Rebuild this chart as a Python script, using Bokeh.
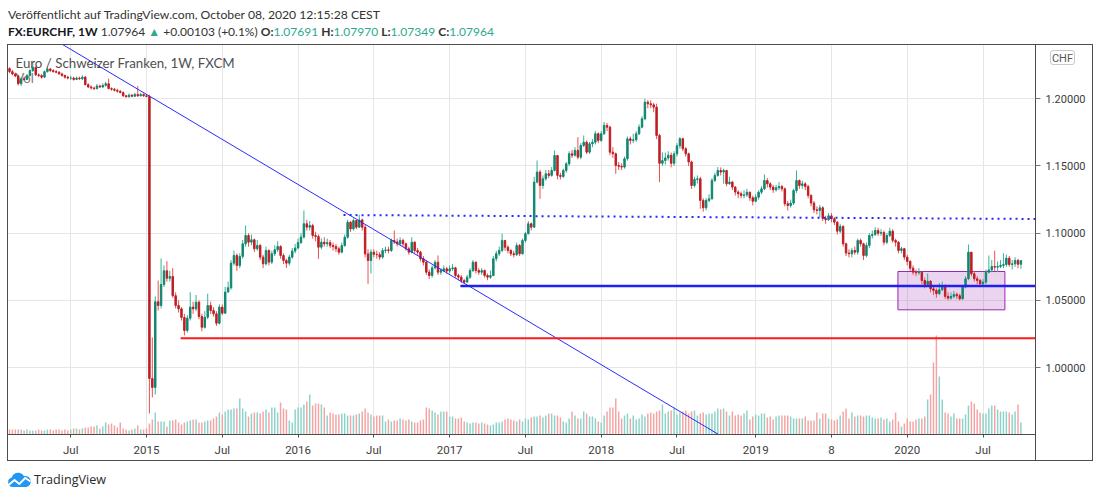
import numpy as np
from bokeh.plotting import figure
from bokeh.models import (ColumnDataSource, Range1d, FixedTicker, NumeralTickFormatter,
                          Label, Div)
from bokeh.layouts import column
from bokeh.embed import file_html
from bokeh.resources import INLINE

# ---------------- data (weekly EUR/CHF, FXCM) ----------------
# bar index 0 = week of 2015-01-05; first bar is index -47 (Feb 2014)
FIRST_WEEK = -47
first_open_x1e4 = 12225

close_x1e4 = [
 12202,12185,12170,12112,12149,12144,12173,12210,12234,12178,
 12173,12161,12202,12222,12210,12202,12198,12185,12173,12161,
 12154,12154,12144,12154,12149,12161,12105,12088,12080,12076,
 12095,12088,12100,12112,12076,12071,12063,12056,12046,12022,
 12015,12027,12019,12032,12022,12032,12022,12017,
 9919,9852,10490,10462,10618,10720,10665,10678,10535,10462,
 10437,10373,10276,10368,10450,10437,10487,10380,10300,10375,
 10462,10425,10400,10330,10450,10405,10562,10594,10777,10834,
 10760,10827,10921,10983,10933,10951,10884,10909,10822,10772,
 10871,10785,10847,10877,10901,10834,10797,10777,10822,10867,
 10890,10930,10971,11070,11045,
 11057,10983,10975,10896,10933,10921,10930,10908,10900,10884,
 10859,10908,10970,11082,11032,11094,11045,11099,11045,10846,
 10797,10859,10842,10840,10822,10871,10876,10871,10946,10935,
 10921,10946,10921,10884,10859,10933,10871,10859,10809,10784,
 10710,10685,10742,10784,10710,10722,10735,10718,10735,10742,
 10685,10673,10648,10636,10673,10722,10784,10722,10710,10722,
 10685,10673,10685,
 10810,10847,10872,10946,10896,10872,10847,10840,10909,10847,
 10946,10996,11070,11045,11380,11455,11355,11405,11442,11430,
 11467,11578,11430,11422,11467,11516,11591,11580,11616,11566,
 11653,11677,11603,11665,11677,11740,11690,11740,11802,11789,
 11603,11591,11504,11497,11492,11554,11702,11690,11695,11740,
 11789,11851,11975,11963,11955,11938,11727,11520,
 11540,11560,11580,11520,11590,11650,11703,11628,11591,11530,
 11355,11400,11405,11244,11189,11244,11256,11393,11430,11467,
 11455,11467,11368,11380,11343,11306,11293,
 11281,11285,11305,11263,11238,11268,11305,11330,11392,11367,
 11343,11323,11338,11347,11330,11219,11206,11224,11318,11392,
 11355,11367,11347,11281,11224,11174,11169,11189,11110,11100,
 11129,11107,11082,11015,11050,10921,10852,10847,10871,10859,
 10946,10921,10834,10909,10983,10990,11020,11000,11005,10933,
 10983,11015,10946,10933,10871,10885,10822,10790,10740,10710,
 10705,10710,10648,10618,10643,10586,10574,10550,10580,10604,
 10530,10517,10530,10544,10534,10512,10599,10661,10859,10698,
 10661,10648,10623,10636,10710,10727,10752,10747,10752,10760,
 10767,10814,10767,10772,10797,10769,10796]

high_x1e4 = [
 12234,12215,12195,12180,12160,12165,12185,12220,12265,12240,
 12190,12185,12210,12235,12230,12220,12215,12205,12195,12180,
 12170,12170,12165,12165,12165,12175,12170,12115,12100,12090,
 12110,12105,12115,12125,12150,12085,12080,12075,12065,12055,
 12030,12040,12035,12045,12095,12045,12040,12035,
 12030,10224,10530,10648,10812,10760,10792,10720,10740,10560,
 10500,10450,10400,10390,10560,10490,10540,10500,10400,10420,
 10550,10490,10450,10420,10470,10470,10600,10640,10800,10870,
 10850,10850,10950,11057,11000,10990,10960,10950,10920,10840,
 10900,10880,10870,10910,10940,10910,10850,10810,10840,10890,
 10920,10960,11000,11169,11100,
 11090,11070,11010,10990,10960,10970,10960,10950,10930,10920,
 10900,10930,10990,11100,11090,11110,11100,11137,11110,11060,
 10880,10880,10880,10870,10860,10890,10900,10900,10960,11020,
 10960,10970,10960,10930,10900,10970,10940,10890,10870,10830,
 10800,10730,10760,10800,10834,10740,10760,10750,10760,10770,
 10750,10700,10690,10660,10690,10740,10800,10790,10740,10740,
 10730,10700,10722,
 10830,10870,10900,10996,10950,10910,10880,10870,10930,10920,
 10960,11010,11090,11080,11420,11541,11470,11430,11470,11470,
 11492,11616,11580,11450,11480,11530,11610,11620,11640,11715,
 11670,11727,11690,11680,11700,11760,11750,11760,11827,11820,
 11800,11640,11600,11530,11520,11570,11720,11720,11740,11760,
 11810,11870,12000,11990,11988,11970,11963,11740,
 11600,11600,11610,11600,11610,11670,11715,11710,11640,11600,
 11540,11420,11430,11420,11260,11260,11290,11410,11450,11492,
 11490,11480,11470,11420,11390,11350,11320,
 11310,11320,11330,11310,11280,11290,11320,11350,11437,11410,
 11380,11360,11360,11380,11360,11340,11240,11250,11330,11467,
 11400,11390,11380,11360,11290,11240,11200,11210,11200,11130,
 11150,11150,11120,11090,11070,11060,10930,10880,10890,10900,
 10960,10960,10930,10930,11000,11020,11045,11040,11030,11020,
 11000,11040,11030,10960,10940,10900,10890,10840,10800,10760,
 10730,10740,10720,10670,10700,10650,10600,10590,10630,10640,
 10620,10560,10560,10570,10560,10550,10610,10680,10916,10860,
 10720,10680,10660,10660,10730,10834,10800,10870,10790,10800,
 10850,10840,10830,10800,10820,10810,10797]

low_x1e4 = [
 12190,12175,12160,12100,12095,12130,12140,12165,12200,12170,
 12160,12150,12155,12195,12200,12195,12190,12180,12165,12150,
 12145,12140,12135,12140,12140,12140,12100,12080,12070,12065,
 12070,12080,12080,12090,12070,12060,12055,12045,12040,12015,
 12010,12010,12012,12015,12015,12018,12015,12010,
 9659,9778,9800,10425,10440,10600,10640,10640,10520,10440,
 10410,10350,10239,10260,10350,10400,10420,10360,10270,10290,
 10360,10400,10380,10310,10320,10390,10400,10560,10580,10760,
 10720,10740,10810,10900,10900,10910,10860,10870,10800,10740,
 10760,10760,10770,10830,10860,10810,10770,10740,10760,10810,
 10850,10880,10920,10960,11020,
 11020,10960,10940,10809,10880,10900,10900,10890,10870,10860,
 10840,10850,10900,10960,11010,11020,11030,11040,11020,10820,
 10623,10700,10820,10810,10800,10810,10850,10850,10860,10920,
 10900,10910,10900,10870,10840,10850,10850,10840,10790,10760,
 10690,10660,10670,10730,10690,10690,10710,10700,10700,10720,
 10670,10650,10630,10623,10630,10660,10710,10700,10690,10690,
 10670,10650,10660,
 10680,10790,10830,10860,10870,10850,10830,10820,10830,10830,
 10840,10930,10990,11020,11040,11370,11256,11330,11390,11410,
 11420,11460,11400,11400,11410,11450,11500,11560,11570,11550,
 11550,11640,11590,11590,11640,11660,11670,11680,11730,11760,
 11580,11560,11442,11470,11470,11480,11540,11660,11670,11680,
 11730,11780,11840,11930,11930,11900,11700,11380,
 11500,11510,11540,11490,11500,11570,11630,11610,11570,11500,
 11330,11340,11370,11182,11160,11170,11230,11250,11380,11420,
 11430,11368,11350,11360,11320,11280,11260,
 11260,11260,11270,11240,11206,11230,11250,11290,11320,11340,
 11320,11300,11310,11320,11310,11200,11169,11190,11210,11300,
 11330,11330,11320,11260,11200,11150,11140,11119,11090,11070,
 11090,11080,11060,10990,11000,10900,10830,10820,10820,10840,
 10840,10900,10800,10820,10890,10960,10980,10980,10980,10910,
 10920,10970,10930,10900,10850,10850,10800,10760,10720,10690,
 10680,10690,10620,10590,10610,10560,10540,10520,10540,10570,
 10510,10500,10505,10515,10510,10500,10505,10590,10650,10680,
 10640,10620,10600,10610,10620,10700,10710,10720,10710,10740,
 10740,10750,10750,10730,10750,10740,10735]

volume = [
 5,5,5,5,5,4,5,4,4,4, 5,4,4,5,5,4,5,5,4,5, 4,5,6,6,5,6,7,7,8,8,
 9,6,8,12,10,11,9,7,12,6, 5,4,5,6,9,5,5,6,
 11,15,22,13,13,13,8,14,14,15, 12,10,12,13,14,15,15,12,12,13,
 14,14,16,18,22,20,23,25,25,26, 26,36,26,23,18,21,22,22,21,23,
 25,22,27,27,22,32,26,25,14,12, 25,27,27,30,33,40,29,31,31,30,
 27,19,22,21,20,20,21,21,19,19, 19,20,21,23,26,22,20,18,19,19,
 19,13,15,13,14,14,16,15,14,15, 13,12,12,14,15,27,26,24,22,20,
 23,23,23,18,18,16,16,17,13,12, 11,12,12,11,12,11,10,9,10,12,
 12,13,15,16,15,14,13,15,13,16, 15,17,18,18,19,17,19,21,
 21,19,19,17,13,12,16,23,19,16, 16,23,21,18,18,16,13,12,19,23,
 27,27,36,23,16,19,21,16,19,15, 16,20,18,21,22,21,23,24,30,21,
 23,24,27,20,22,23,24,21,23,24, 19,21,22,20,21,21,23,26,25,26,
 23,19,23,19,20,19,21,24,15,18, 20,19,21,21,17,18,15,18,19,19,
 19,19,18,16,16,16,16,18,14,14, 14,22,16,21,21,16,15,14,15,19,
 23,26,16,22,18,19,19,18,19,19, 17,16,16,17,15,16,13,15,22,13,
 8,11,16,13,13,15,16,16,18,35, 40,72,99,58,35,22,21,18,21,16,
 16,16,20,29,33,31,25,22,21,21, 26,29,29,25,23,23,23,22,20,23,
 30,12]

tick_weeks = [-26, 0, 26, 52, 78, 104, 130, 156, 182, 209, 235, 261, 287]
tick_labels = ["Jul", "2015", "Jul", "2016", "Jul", "2017", "Jul", "2018",
               "Jul", "2019", "8", "2020", "Jul"]
price_ticks = [1.00, 1.05, 1.10, 1.15, 1.20]

# chart drawings (week index, price)
trend_k, trend_p = [-35, 205], [1.2484, 0.9390]
dotted_k, dotted_p = [67.6, 320], [1.1135, 1.1104]
support_k, support_p = [107.7, 320], [1.0608, 1.0608]
red_k, red_p = [11.7, 320], [1.0219, 1.0219]
box_k, box_p = [257.8, 294.5], [1.0430, 1.0715]

last_o, last_h, last_l, last_c, last_chg = "1.07691", "1.07970", "1.07349", "1.07964", "+0.00103 (+0.1%)"

# ---------------- build ----------------
n = len(close_x1e4)
k = np.arange(FIRST_WEEK, FIRST_WEEK + n)
c = np.array(close_x1e4) / 1e4
o = np.concatenate([[first_open_x1e4 / 1e4], c[:-1]])
h = np.maximum(np.array(high_x1e4) / 1e4, np.maximum(o, c))
l = np.minimum(np.array(low_x1e4) / 1e4, np.minimum(o, c))
up = c >= o

UP_BODY, DN_BODY = "#138670", "#bd1f24"
UP_WICK, DN_WICK = "#30b39a", "#ef4f50"
UP_VOL, DN_VOL = "#8ad3c9", "#f5a3a2"

src = ColumnDataSource(dict(
    k=k, h=h, l=l, top=np.maximum(o, c), bot=np.minimum(o, c),
    body=np.where(up, UP_BODY, DN_BODY).tolist(),
    wick=np.where(up, UP_WICK, DN_WICK).tolist(),
    vol=np.array(volume, dtype=float),
    vcol=np.where(up, UP_VOL, DN_VOL).tolist()))

W, H = 1086, 417
FW, FH = 1028, 390
p = figure(width=W, height=H, x_range=Range1d(-47.69, 305.0),
           y_range=Range1d(0.95022, 1.24040), output_backend="svg",
           toolbar_location=None, y_axis_location="right", title=None,
           min_border_left=0, min_border_right=W - FW, min_border_top=0,
           min_border_bottom=H - FH)
p.extra_y_ranges = {"vol": Range1d(0, FH)}
p.background_fill_color = "white"
p.border_fill_color = "white"
p.outline_line_color = "#4d4d4d"

p.xgrid.ticker = FixedTicker(ticks=tick_weeks)
p.ygrid.ticker = FixedTicker(ticks=price_ticks)
for g in (p.xgrid, p.ygrid):
    g.grid_line_color = "#e6e6e6"
    g.grid_line_width = 1

xa = p.xaxis[0]
xa.ticker = FixedTicker(ticks=tick_weeks)
xa.major_label_overrides = dict(zip(tick_weeks, tick_labels))
xa.major_tick_out = 3
xa.major_tick_in = 0
xa.major_tick_line_color = "#4d4d4d"
xa.minor_tick_line_color = None
xa.axis_line_color = "#4d4d4d"
xa.major_label_text_font = "Roboto"
xa.major_label_text_font_size = "11.5px"
xa.major_label_text_color = "#3d3d3d"
xa.major_label_standoff = 5

ya = p.yaxis[0]
ya.ticker = FixedTicker(ticks=price_ticks)
ya.formatter = NumeralTickFormatter(format="0.00000")
ya.major_tick_out = 5
ya.major_tick_in = 0
ya.major_tick_line_color = "#777777"
ya.minor_tick_line_color = None
ya.axis_line_color = "#4d4d4d"
ya.major_label_text_font = "Roboto"
ya.major_label_text_font_size = "11px"
ya.major_label_text_color = "#3d3d3d"
ya.major_label_standoff = 5

# legend texts inside the pane
p.add_layout(Label(x=8, y=FH - 33.5, x_units="screen", y_units="screen", text="Vol",
                   text_font="Lato", text_font_size="13px", text_color="#7a7a7a",
                   text_baseline="middle", level="underlay"))

# volume
p.vbar(x="k", top="vol", bottom=0, width=0.5, fill_color="vcol", line_color=None,
       y_range_name="vol", source=src)

# purple box
p.quad(left=box_k[0], right=box_k[1], bottom=box_p[0], top=box_p[1],
       fill_color="#9c27b0", fill_alpha=0.2, line_color="#9c27b0", line_width=1)

# candles
p.segment(x0="k", y0="l", x1="k", y1="h", line_color="wick", line_width=1, source=src)
p.vbar(x="k", top="top", bottom="bot", width=0.5, fill_color="body",
       line_color="body", line_width=1, source=src)

# drawings
p.line(trend_k, trend_p, line_color="#2b2bff", line_width=1)
p.line(dotted_k, dotted_p, line_color="#2626ff", line_width=2, line_dash="2 4")
p.line(support_k, support_p, line_color="#2020f0", line_width=2.5)
p.line(red_k, red_p, line_color="#ff1a1a", line_width=2)

p.add_layout(Label(x=8, y=FH - 18, x_units="screen", y_units="screen",
                   text="Euro / Schweizer Franken, 1W, FXCM", text_font="Lato",
                   text_font_size="13.3px", text_color="#505050",
                   text_baseline="middle"))

G = "#2ea98d"
header_html = (
    '<div style="font-family:Lato,sans-serif;font-size:12.2px;line-height:17px;'
    'color:#333;margin-top:-2px;padding-left:1px;white-space:nowrap">'
    'Ver&ouml;ffentlicht auf TradingView.com, October 08, 2020 12:15:28 CEST<br>'
    '<span style="font-size:12px"><b style="color:#131722">FX:EURCHF, 1W</b> ' + last_c +
    ' <span style="color:%s">&#9650;</span> %s '
    '<b>O:</b><span style="color:%s">%s</span> <b>H:</b><span style="color:%s">%s</span> '
    '<b>L:</b><span style="color:%s">%s</span> <b>C:</b><span style="color:%s">%s</span></span></div>'
) % (G, last_chg, G, last_o, G, last_h, G, last_l, G, last_c)
header = Div(text=header_html, width=W, height=36, margin=(0, 0, 0, 0))

# widget frame lines, axis divider and currency badge (HTML overlay over the canvas)
def hline(left, top, width):
    return ('<div style="position:absolute;left:%dpx;top:%dpx;width:%dpx;height:1px;'
            'background:#4d4d4d;z-index:5"></div>' % (left, top, width))

def vline(left, top, height):
    return ('<div style="position:absolute;left:%dpx;top:%dpx;width:1px;height:%dpx;'
            'background:#4d4d4d;z-index:5"></div>' % (left, top, height))

overlay = (
    '<div style="position:relative;width:0;height:0">'
    + hline(0, -H, W) + hline(0, -1, W) + vline(0, -H, H) + vline(W - 1, -H, H)
    + vline(FW, -(H - FH), H - FH) +
    '<div style="position:absolute;left:1043px;top:-411px;width:25px;height:15px;'
    'border:1px solid #c9c9c9;border-radius:3px;font-family:Roboto,sans-serif;font-size:11px;'
    'color:#555;text-align:center;line-height:15px;background:#fff;z-index:6">CHF</div>'
    '</div>')

logo = ('<svg width="25" height="15" viewBox="0 0 25 15">'
        '<path d="M5.2 15 A4.8 4.8 0 0 1 4.8 5.6 A6.6 6.6 0 0 1 17 4.2 A5.4 5.4 0 0 1 19.6 15 Z" fill="#2196f3"/>'
        '<polyline points="1.5,13 7.5,8 12.3,12 18.3,6 23.5,9.5" fill="none" stroke="#ffffff" stroke-width="1.9"/>'
        '</svg>')
footer = Div(text=overlay +
             '<div style="display:flex;align-items:center;height:15px;margin-top:11px;'
             'white-space:nowrap">' + logo +
             '<span style="font-family:\'Open Sans\',sans-serif;font-size:12.6px;color:#2a2a2a;'
             'margin-left:2px">TradingView</span></div>',
             width=W, height=28, margin=(0, 0, 0, 0))

layout = column(header, p, footer, spacing=0, margin=(8, 0, 0, 7))
open("out.html", "w").write(file_html(layout, INLINE))
